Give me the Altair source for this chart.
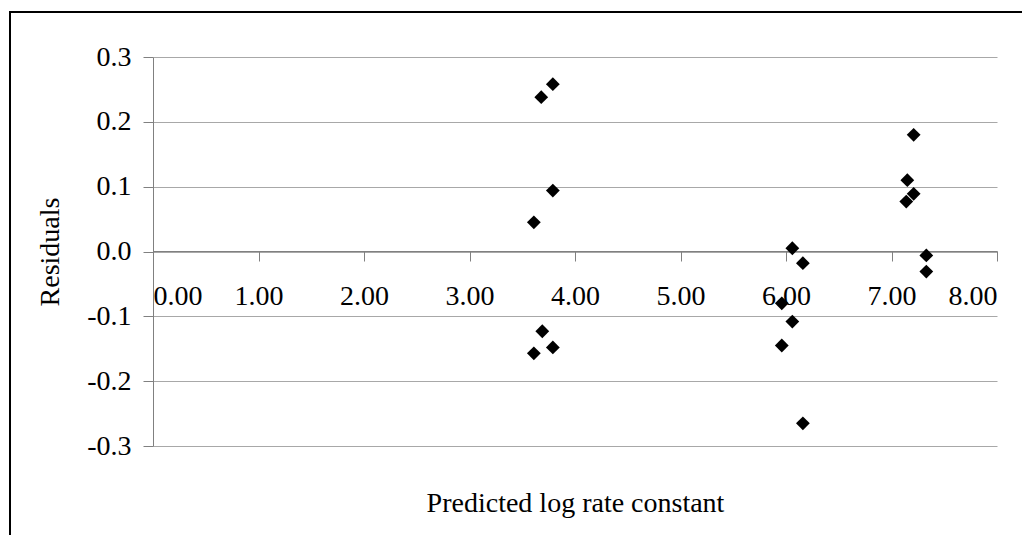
import altair as alt
import pandas as pd

# Predicted log rate constant (x) and residuals (y)
pred = [3.61, 3.68, 3.79, 3.79, 3.69, 3.61, 3.79,
        6.06, 6.16, 5.96, 6.06, 5.96, 6.16,
        7.21, 7.15, 7.21, 7.14, 7.33, 7.33]
resid = [0.045, 0.238, 0.258, 0.094, -0.123, -0.157, -0.148,
         0.005, -0.018, -0.080, -0.108, -0.145, -0.265,
         0.180, 0.110, 0.089, 0.077, -0.006, -0.031]

x_ticks = [0, 1, 2, 3, 4, 5, 6, 7, 8]
y_ticks = [-0.3, -0.2, -0.1, 0.0, 0.1, 0.2, 0.3]

df = pd.DataFrame({"pred": pred, "resid": resid})

W, H = 844, 389
FONT = "Liberation Serif"
FS = 28

points = alt.Chart(df).mark_point(
    shape="diamond", filled=True, color="black", size=190, opacity=1
).encode(
    x=alt.X("pred:Q",
            scale=alt.Scale(domain=[0, 8], nice=False, zero=False),
            axis=alt.Axis(
                values=x_ticks, format=".2f", offset=-195,
                grid=False, domainColor="#808080", tickColor="#808080",
                tickSize=10, labelFont=FONT, labelFontSize=FS,
                labelColor="black", labelPadding=21,
                title="Predicted log rate constant", titleFont=FONT,
                titleFontSize=FS, titleFontWeight="normal", titleColor="black",
                titleY=260, titleBaseline="alphabetic")),
    y=alt.Y("resid:Q",
            scale=alt.Scale(domain=[-0.3, 0.3], nice=False, zero=False),
            axis=alt.Axis(
                values=y_ticks, format=".1f",
                labelExpr="replace(datum.label, '\u2212', '-')",
                grid=True, gridColor="#a8a8a8", gridWidth=1,
                domainColor="#808080", tickColor="#808080", tickSize=10,
                labelFont=FONT, labelFontSize=FS, labelColor="black",
                labelPadding=12,
                title="Residuals", titleFont=FONT, titleFontSize=FS,
                titleFontWeight="normal", titleColor="black",
                titleX=-103, titleBaseline="middle")),
)

border = alt.Chart(pd.DataFrame({"b": [0]})).mark_rect(
    fill=None, stroke="black", strokeWidth=2
).encode(
    x=alt.value(-143), x2=alt.value(W + 200),
    y=alt.value(-45), y2=alt.value(H + 200),
)

chart = alt.layer(border, points).properties(
    width=W, height=H,
    padding={"left": 145, "top": 49, "right": 25, "bottom": 89},
    autosize=alt.AutoSizeParams(type="none"),
    background="white",
).configure_view(stroke=None)

chart.save("out.html", embed_options={"renderer": "svg", "actions": False})
